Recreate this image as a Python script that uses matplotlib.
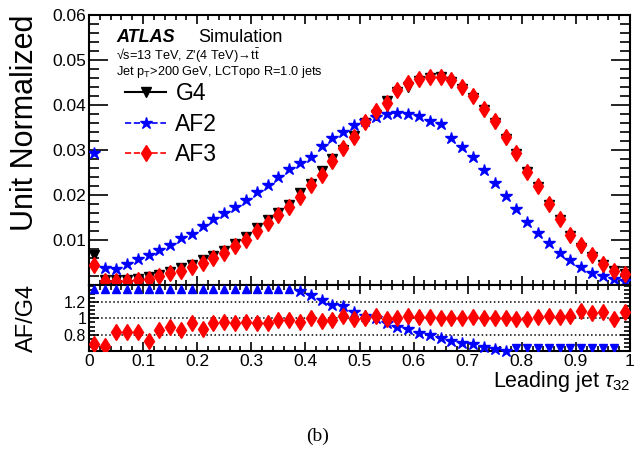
import numpy as np
import matplotlib
matplotlib.use('Agg')
import matplotlib.pyplot as plt
from matplotlib.lines import Line2D
from matplotlib.ticker import MultipleLocator

plt.rcParams['font.family'] = ['Liberation Sans', 'DejaVu Sans']
plt.rcParams['mathtext.fontset'] = 'custom'
plt.rcParams['mathtext.rm'] = 'Liberation Sans'
plt.rcParams['mathtext.it'] = 'Liberation Sans:italic'
plt.rcParams['mathtext.sf'] = 'Liberation Sans'

#%% Data: 50 bins of width 0.02 in leading jet tau32
bin_edges = np.linspace(0, 1, 51)
bin_centres = 0.5 * (bin_edges[:-1] + bin_edges[1:])

g4 = [0.0067, 0.0012, 0.0012, 0.0012, 0.0014, 0.0018, 0.0022, 0.0030, 0.0037, 0.0044,
      0.0056, 0.0064, 0.0076, 0.0091, 0.0106, 0.0126, 0.0145, 0.0159, 0.0178, 0.0204,
      0.0225, 0.0253, 0.0280, 0.0300, 0.0331, 0.0361, 0.0378, 0.0410, 0.0430, 0.0441,
      0.0454, 0.0461, 0.0463, 0.0452, 0.0435, 0.0415, 0.0390, 0.0361, 0.0325, 0.0292,
      0.0252, 0.0217, 0.0178, 0.0144, 0.0110, 0.0083, 0.0063, 0.0044, 0.0032, 0.0024]

af2 = [0.0293, 0.0038, 0.0035, 0.0046, 0.0057, 0.0066, 0.0077, 0.0088, 0.0104, 0.0113,
       0.0131, 0.0146, 0.0161, 0.0174, 0.0190, 0.0207, 0.0222, 0.0241, 0.0258, 0.0272,
       0.0285, 0.0309, 0.0326, 0.0341, 0.0356, 0.0364, 0.0374, 0.0380, 0.0383, 0.0381,
       0.0376, 0.0365, 0.0357, 0.0327, 0.0307, 0.0284, 0.0255, 0.0227, 0.0198, 0.0170,
       0.0141, 0.0116, 0.0093, 0.0072, 0.0056, 0.0039, 0.0026, 0.0019, 0.0013, 0.0008]

af3 = [0.0045, 0.0008, 0.0010, 0.0010, 0.0012, 0.0013, 0.0019, 0.0027, 0.0032, 0.0041,
       0.0048, 0.0060, 0.0072, 0.0086, 0.0101, 0.0119, 0.0137, 0.0155, 0.0174, 0.0196,
       0.0223, 0.0245, 0.0275, 0.0305, 0.0328, 0.0362, 0.0387, 0.0405, 0.0434, 0.0450,
       0.0458, 0.0463, 0.0462, 0.0455, 0.0439, 0.0421, 0.0392, 0.0365, 0.0329, 0.0293,
       0.0251, 0.0220, 0.0181, 0.0146, 0.0112, 0.0089, 0.0066, 0.0047, 0.0031, 0.0025]

# ratio panel, +inf / -inf = point off the top / bottom of the panel, nan = no point
ratio_af2 = [np.inf] * 19 + [1.34, 1.29, 1.225, 1.165, 1.15, 1.075, 1.03, 1.0, 0.94, 0.89,
                             0.865, 0.825, 0.795, 0.765, 0.725, 0.70, 0.68, 0.65, 0.63, 0.60] \
            + [-np.inf] * 10 + [np.nan]

ratio_af3 = [0.69, 0.66, 0.835, 0.83, 0.835, 0.72, 0.855, 0.89, 0.855, 0.94,
             0.865, 0.945, 0.95, 0.94, 0.955, 0.945, 0.945, 0.975, 0.98, 0.96,
             1.0, 0.97, 0.98, 1.03, 0.99, 1.005, 1.03, 0.99, 1.01, 1.03,
             1.02, 1.02, 1.0, 1.01, 1.01, 1.02, 1.005, 1.01, 1.01, 0.995,
             0.99, 1.02, 1.03, 1.02, 1.03, 1.095, 1.07, 1.08, 0.99, 1.08]

ratio_lims = (0.6, 1.41)

#%% Figure
W, H = 638, 451
fig = plt.figure(figsize=(W / 100, H / 100), dpi=100)
ax = fig.add_axes([89 / W, 1 - 285 / H, 541 / W, 270 / H])
rax = fig.add_axes([89 / W, 1 - 351 / H, 541 / W, 66 / H], sharex=ax)

ax.plot(bin_centres, g4, 'v', color='black', ms=7.5, zorder=3)
ax.plot(bin_centres, af2, '*', color='blue', ms=9, zorder=3)
ax.plot(bin_centres, af3, 'd', color='red', ms=8, zorder=4)

ax.set_xlim(0, 1)
ax.set_ylim(0, 0.06)
ax.yaxis.set_minor_locator(MultipleLocator(0.002))
ax.xaxis.set_major_locator(MultipleLocator(0.1))
ax.xaxis.set_minor_locator(MultipleLocator(0.02))
ax.set_yticks([0.01, 0.02, 0.03, 0.04, 0.05, 0.06])
ax.set_yticklabels(['0.01', '0.02', '0.03', '0.04', '0.05', '0.06'])
ax.tick_params(axis='both', which='both', direction='in', top=True, right=True,
               labelbottom=False, width=1.2)
ax.tick_params(axis='y', which='major', length=13.5, labelsize=12.5, pad=2)
ax.tick_params(axis='y', which='minor', length=7)
ax.tick_params(axis='x', which='major', length=6.5)
ax.tick_params(axis='x', which='minor', length=3.5)
for s in ax.spines.values():
    s.set_linewidth(1.5)

# ratio panel
r2 = np.array(ratio_af2)
x = bin_centres
fin = np.isfinite(r2)
hi = np.isposinf(r2)
lo = np.isneginf(r2)
for yv in (0.8, 1.0, 1.2):
    rax.axhline(yv, color='black', ls=':', lw=1.1, zorder=1)
rax.plot(x[fin], r2[fin], '*', color='blue', ms=9, zorder=3, clip_on=False)
top_y = ratio_lims[1] - 0.05
bot_y = ratio_lims[0] + 0.035
rax.vlines(x[hi], top_y - 0.05, top_y, color='blue', lw=1.2, zorder=3)
rax.plot(x[hi], np.full(hi.sum(), top_y), '^', color='blue', ms=6, zorder=3)
rax.vlines(x[lo], bot_y, bot_y + 0.05, color='blue', lw=1.2, zorder=3)
rax.plot(x[lo], np.full(lo.sum(), bot_y), 'v', color='blue', ms=6, zorder=3)
rax.plot(x, ratio_af3, 'd', color='red', ms=8, zorder=4)

rax.set_ylim(*ratio_lims)
rax.set_yticks([0.8, 1.0, 1.2])
rax.set_yticklabels(['0.8', '1', '1.2'])
rax.yaxis.set_minor_locator(MultipleLocator(0.05))
rax.set_xticks(np.arange(0, 1.01, 0.1))
rax.set_xticklabels(['0', '0.1', '0.2', '0.3', '0.4', '0.5', '0.6', '0.7', '0.8', '0.9', '1'])
rax.tick_params(axis='both', which='both', direction='in', top=True, right=True, width=1.2)
rax.tick_params(axis='y', which='major', length=7, labelsize=11.5, pad=2)
rax.tick_params(axis='y', which='minor', length=4)
rax.tick_params(axis='x', which='major', length=6.5, labelsize=12.5, pad=2)
rax.tick_params(axis='x', which='minor', length=3.5)
for s in rax.spines.values():
    s.set_linewidth(1.5)

# labels
fig.text(25 / W, 1 - 15 / H, 'Unit Normalized', rotation=90, ha='center', va='top', fontsize=22)
fig.text(27 / W, 1 - 318 / H, 'AF/G4', rotation=90, ha='center', va='center', fontsize=17)
fig.text(630 / W, 1 - 387 / H, r'Leading jet $\tau_{32}$', ha='right', va='baseline', fontsize=15.5)
fig.text(318 / W, 1 - 436 / H, '(b)', ha='center', va='center', fontsize=14,
         family=['Liberation Serif', 'DejaVu Serif'])

# ATLAS label
fig.text(116 / W, 1 - 37 / H, 'ATLAS', ha='left', va='center', fontsize=13,
         fontweight='bold', fontstyle='italic')
fig.text(198 / W, 1 - 37 / H, 'Simulation', ha='left', va='center', fontsize=13)
fig.text(116 / W, 1 - 60 / H, "\u221As=13 TeV, Z'(4 TeV)\u2192t$\\bar{\\mathrm{t}}$",
         ha='left', va='baseline', fontsize=9.2)
fig.text(116 / W, 1 - 75 / H, r'Jet p$_{\mathrm{T}}$>200 GeV, LCTopo R=1.0 jets',
         ha='left', va='baseline', fontsize=9.2)

handles = [Line2D([], [], color='black', ls='-', lw=1.5, marker='v', ms=7.5),
           Line2D([], [], color='blue', ls='--', lw=1.2, marker='*', ms=9),
           Line2D([], [], color='red', ls='--', lw=1.2, marker='d', ms=8)]
fig.legend(handles, ['G4', 'AF2', 'AF3'], loc='upper left',
           bbox_to_anchor=(125 / W, 1 - 82 / H), frameon=False, fontsize=16.5,
           handlelength=1.8, handletextpad=0.4, labelspacing=0.33,
           borderpad=0, borderaxespad=0)

plt.savefig('out.png', dpi=100)
